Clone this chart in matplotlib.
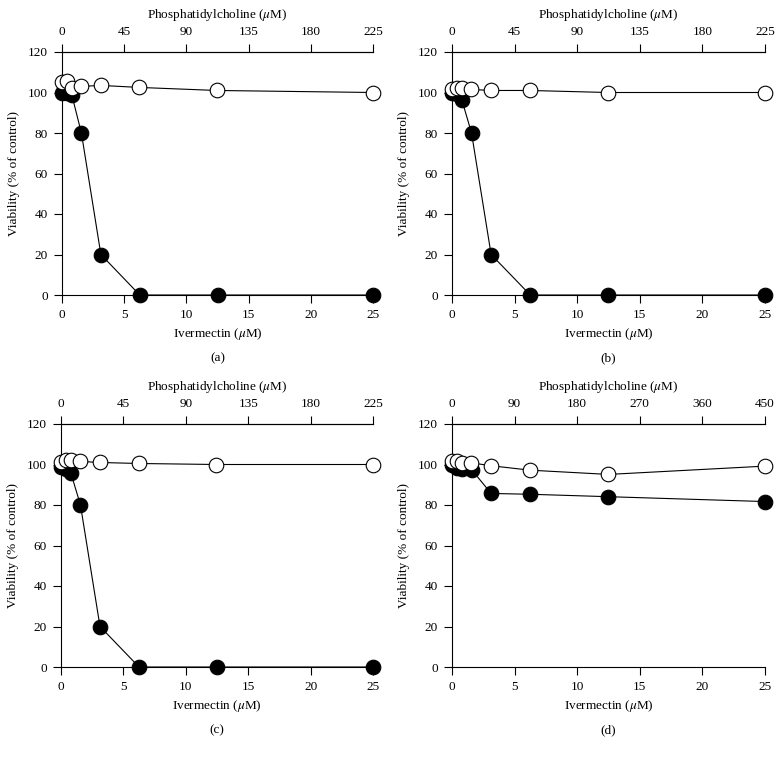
import matplotlib
matplotlib.use("Agg")
import matplotlib.pyplot as plt

plt.rcParams['font.family'] = ['Liberation Serif', 'DejaVu Serif']
plt.rcParams['mathtext.fontset'] = 'stix'

# Data
ivermectin = [0, 0.39, 0.78, 1.56, 3.125, 6.25, 12.5, 25]
pc_abc = [0, 3.5, 7, 14, 28, 56, 112, 225]
pc_d = [0, 7, 14, 28, 56, 112, 225, 450]

a_iv = [100, 100, 99, 80, 20, 0, 0, 0]
a_pc = [105, 105.5, 102, 103, 103.5, 102.5, 101, 100]
b_iv = [100, 99.5, 96.5, 80, 20, 0, 0, 0]
b_pc = [101.5, 102, 102, 101.5, 101, 101, 100, 100]
c_iv = [99, 98, 96, 80, 20, 0, 0, 0]
c_pc = [101, 102, 102, 101.5, 101, 100.5, 100, 100]
d_iv = [99.7, 98.5, 98, 97.5, 85.7, 85.3, 84.1, 81.7]
d_pc = [101.8, 101.5, 100.5, 100.8, 99.4, 97.2, 95.1, 99.2]

x_ticks = [0, 5, 10, 15, 20, 25]
y_ticks = [0, 20, 40, 60, 80, 100, 120]
top_ticks_abc = [0, 45, 90, 135, 180, 225]
top_ticks_d = [0, 90, 180, 270, 360, 450]

panels = [
    ("(a)", a_iv, a_pc, pc_abc, top_ticks_abc),
    ("(b)", b_iv, b_pc, pc_abc, top_ticks_abc),
    ("(c)", c_iv, c_pc, pc_abc, top_ticks_abc),
    ("(d)", d_iv, d_pc, pc_d, top_ticks_d),
]

W, H = 782, 757
fig = plt.figure(figsize=(W / 100, H / 100), dpi=100)

# pixel boxes: left, right, top, bottom
boxes = [(62, 373, 52, 295), (452, 765, 52, 295),
         (61, 373, 424, 667), (452, 765, 424, 667)]

tick_fs = 9.5
label_fs = 9.5
ms = 10.5

for (lab, iv_vals, pc_vals, pc_x, top_ticks), (l, r, t, b) in zip(panels, boxes):
    ax = fig.add_axes([l / W, 1 - b / H, (r - l) / W, (b - t) / H])
    ax.set_xlim(0, 25)
    ax.set_ylim(0, 120)
    ax.set_xticks(x_ticks)
    ax.set_yticks(y_ticks)
    ax.spines['right'].set_visible(False)
    for s in ['left', 'bottom', 'top']:
        ax.spines[s].set_linewidth(0.8)
    ax.tick_params(direction='out', length=6, width=0.8, labelsize=tick_fs, pad=4)
    ax.set_xlabel(r"Ivermectin ($\mathit{\mu}$M)", fontsize=label_fs, labelpad=4)
    ax.set_ylabel("Viability (% of control)", fontsize=label_fs, labelpad=6)
    ax.plot(ivermectin, iv_vals, '-o', color='black', lw=0.8,
            markersize=ms, markerfacecolor='black', markeredgecolor='black',
            markeredgewidth=0.8, clip_on=False, zorder=3)

    ax2 = ax.twiny()
    ax2.set_xlim(0, top_ticks[-1])
    ax2.set_ylim(0, 120)
    ax2.set_xticks(top_ticks)
    for s in ['right', 'left', 'bottom']:
        ax2.spines[s].set_visible(False)
    ax2.spines['top'].set_linewidth(0.8)
    ax2.tick_params(direction='out', length=6, width=0.8, labelsize=tick_fs, pad=4)
    ax2.set_xlabel(r"Phosphatidylcholine ($\mathit{\mu}$M)", fontsize=label_fs, labelpad=6)
    ax2.plot(pc_x, pc_vals, '-o', color='black', lw=0.8,
             markersize=ms, markerfacecolor='white', markeredgecolor='black',
             markeredgewidth=0.8, clip_on=False, zorder=4)

    fig.text(((l + r) / 2) / W, 1 - (b + 63) / H, lab, ha='center', va='center',
             fontsize=label_fs)

fig.savefig("out.png", dpi=100)
